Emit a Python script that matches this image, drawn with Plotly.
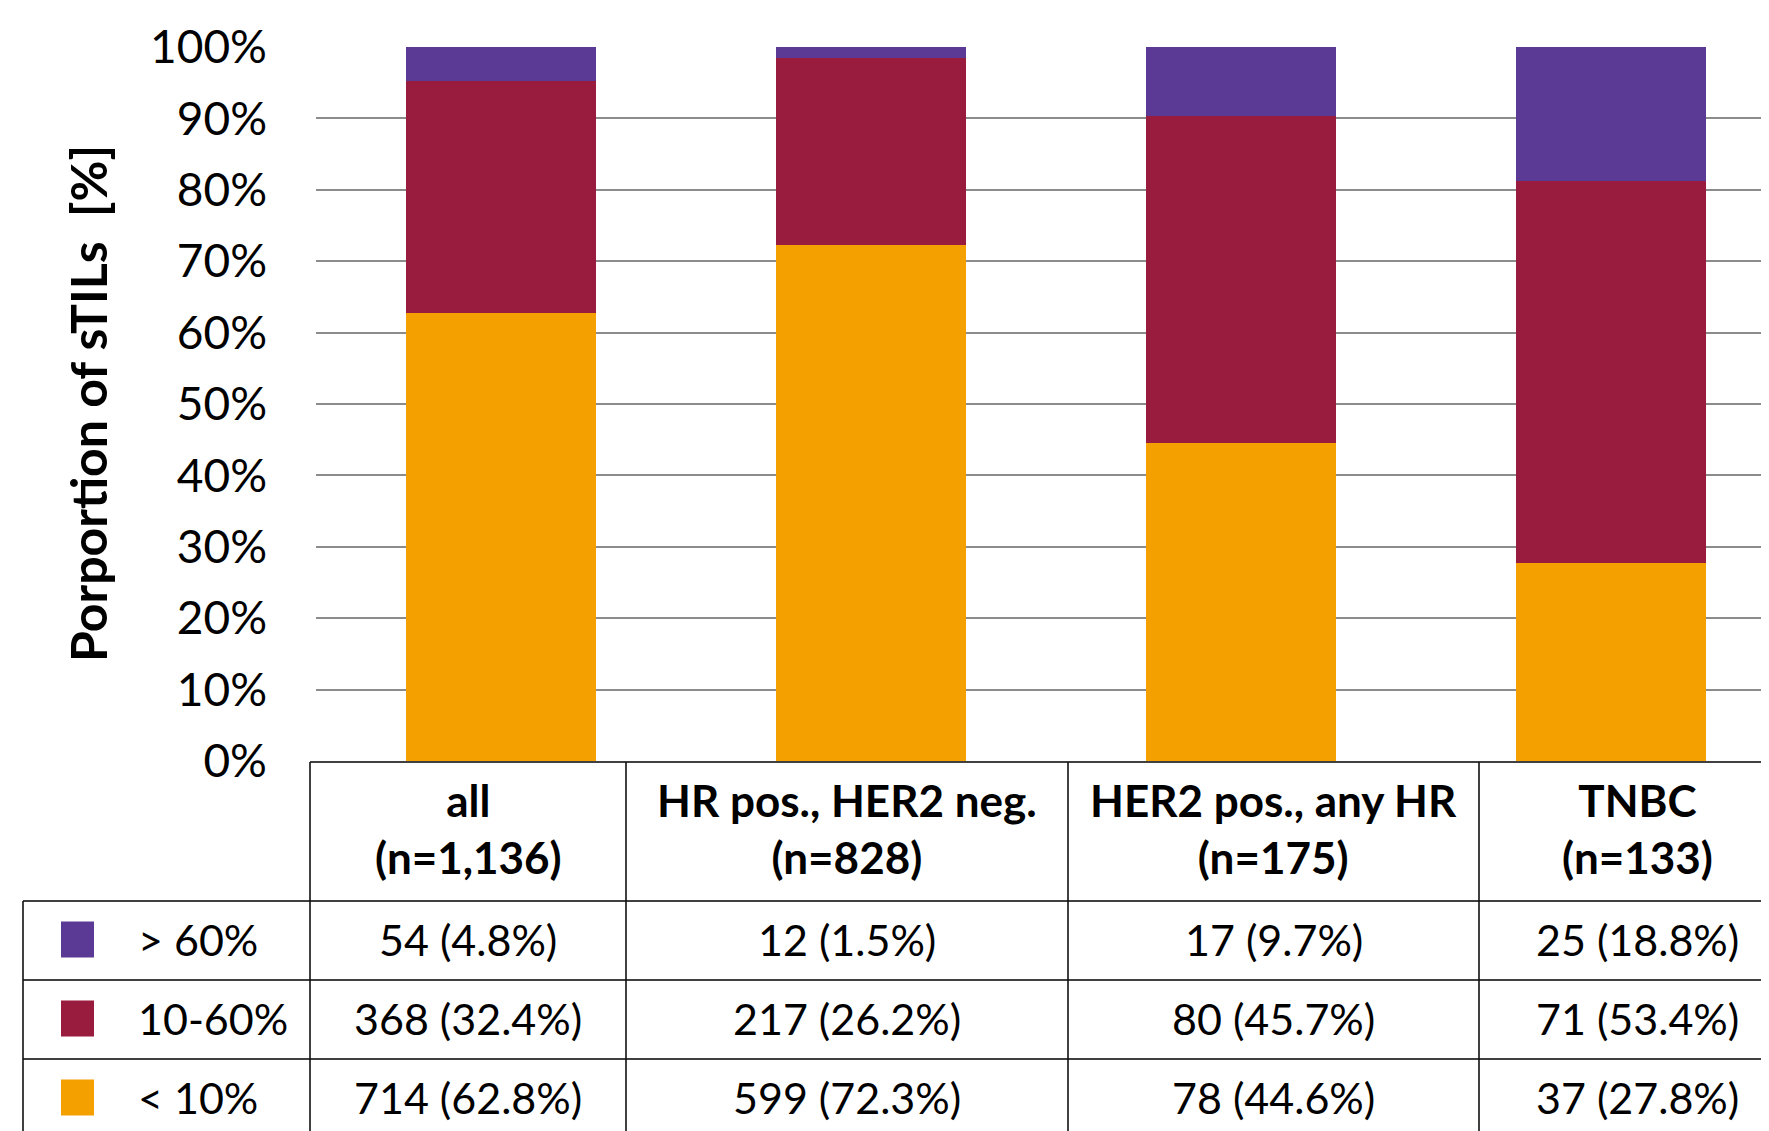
import plotly.graph_objects as go

# ---------------- data ----------------
groups = ["all", "HR pos., HER2 neg.", "HER2 pos., any HR", "TNBC"]
group_n = [1136, 828, 175, 133]
levels = ["> 60%", "10-60%", "< 10%"]
level_labels = ["&gt; 60%", "10-60%", "&lt; 10%"]
counts_high = [54, 12, 17, 25]
pct_high = [4.8, 1.5, 9.7, 18.8]
counts_mid = [368, 217, 80, 71]
pct_mid = [32.4, 26.2, 45.7, 53.4]
counts_low = [714, 599, 78, 37]
pct_low = [62.8, 72.3, 44.6, 27.8]
y_ticks = [0, 10, 20, 30, 40, 50, 60, 70, 80, 90, 100]
y_title = "Porportion of sTILs&nbsp;&nbsp;[%]"

colors = {"> 60%": "#5B3A96", "10-60%": "#991B3D", "< 10%": "#F4A000"}

# ---------------- geometry (screen pixels; page body has 8px margin) ----------------
OFF = 8
W, H = 1769 - OFF, 1131 - OFF
L, T, BOT = 316 - OFF, 47 - OFF, 761 - OFF
R = W
FONT = "Lato"


def px(x):
    """screen pixel x -> paper coordinate"""
    return (x - OFF - L) / (R - L)


def py(y):
    """screen pixel y -> paper coordinate"""
    return (BOT - (y - OFF)) / (BOT - T)


fig = go.Figure()
series = [("< 10%", pct_low), ("10-60%", pct_mid), ("> 60%", pct_high)]
for name, vals in series:
    fig.add_trace(go.Bar(
        x=groups, y=vals, name=name, width=0.512,
        marker=dict(color=colors[name], line=dict(width=0)),
        showlegend=False, hoverinfo="x+y+name",
    ))

fig.update_layout(
    barmode="stack",
    width=W, height=H,
    margin=dict(l=L, r=W - R, t=T, b=H - BOT, pad=0, autoexpand=False),
    plot_bgcolor="white", paper_bgcolor="white",
    font=dict(family=FONT, color="black"),
    xaxis=dict(range=[-0.5, -0.5 + (R - L) / 370.0], visible=False, fixedrange=True),
    yaxis=dict(range=[0, 100], tickvals=y_ticks, ticktext=[f"{v}%" for v in y_ticks],
               showgrid=True, gridcolor="#8c8c8c", gridwidth=2, zeroline=False,
               showline=False, ticks="", ticklabelstandoff=48,
               tickfont=dict(family=FONT, size=46, color="black"), automargin=False),
)

# y-axis title
fig.add_annotation(text=f"<b>{y_title}</b>", textangle=-90, xref="paper", yref="paper",
                   x=px(88), y=py(404), showarrow=False, xanchor="center", yanchor="middle",
                   font=dict(family=FONT, size=50, color="black"))

# ---------------- table ----------------
col_edges = [310, 626, 1068, 1479, 1796]
row_edges = [901, 980, 1059, 1138]
header_top = 762
left_edge = 23
h_style = dict(color="#404040", width=2)
v_style = dict(color="#111111", width=1.6)


def hline(x0, x1, y):
    fig.add_shape(type="line", xref="paper", yref="paper", x0=px(x0), x1=px(x1),
                  y0=py(y), y1=py(y), line=h_style, layer="above")


def vline(x, y0, y1):
    fig.add_shape(type="line", xref="paper", yref="paper", x0=px(x), x1=px(x),
                  y0=py(y0), y1=py(y1), line=v_style, layer="above")


hline(col_edges[0], col_edges[-1], header_top)
for y in row_edges[:-1]:
    hline(left_edge, col_edges[-1], y)
vline(left_edge, row_edges[0], 1140)
for x in col_edges[:-1]:
    vline(x, header_top, 1140)

# header text
for i, g in enumerate(groups):
    cx = (col_edges[i] + col_edges[i + 1]) / 2
    fig.add_annotation(text=f"<b>{g}<br>(n={group_n[i]:,})</b>", xref="paper", yref="paper",
                       x=px(cx), y=py(828), showarrow=False, xanchor="center", yanchor="middle",
                       font=dict(family=FONT, size=44, color="black"))

# body rows
row_data = [(counts_high, pct_high), (counts_mid, pct_mid), (counts_low, pct_low)]
for r, (lvl, lab) in enumerate(zip(levels, level_labels)):
    cy = (row_edges[r] + row_edges[r + 1]) / 2 - 1
    # legend square
    fig.add_shape(type="rect", xref="paper", yref="paper", x0=px(61), x1=px(94),
                  y0=py(cy - 18), y1=py(cy + 18), fillcolor=colors[lvl], line=dict(width=0))
    fig.add_annotation(text=lab, xref="paper", yref="paper", x=px(136), y=py(cy),
                       showarrow=False, xanchor="left", yanchor="middle",
                       font=dict(family=FONT, size=43, color="black"))
    counts, pcts = row_data[r]
    for i in range(len(groups)):
        cx = (col_edges[i] + col_edges[i + 1]) / 2
        fig.add_annotation(text=f"{counts[i]} ({pcts[i]}%)", xref="paper", yref="paper",
                           x=px(cx), y=py(cy), showarrow=False, xanchor="center", yanchor="middle",
                           font=dict(family=FONT, size=43, color="black"))

fig.write_html("out.html")
